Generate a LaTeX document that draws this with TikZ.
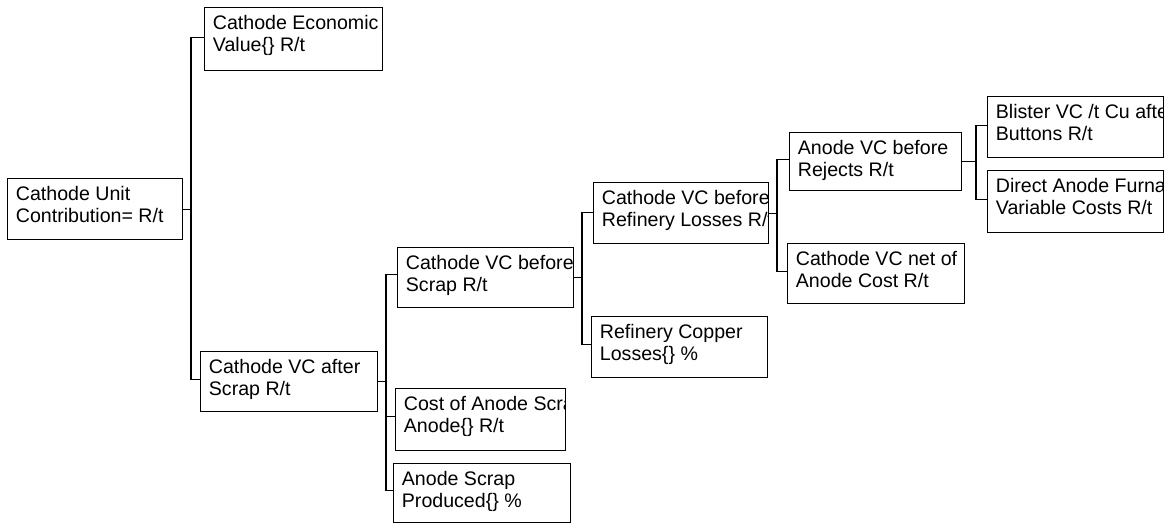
\documentclass[tikz,border=0pt]{standalone}
\usepackage{fontspec}
\setmainfont{Liberation Sans}
\begin{document}
\begin{tikzpicture}[x=1pt,y=-1pt,
  link/.style={draw=black, line width=1.1pt},
  linetext/.style={anchor=base west, inner sep=0pt, draw=none,
    minimum width=0pt, minimum height=0pt, font=\fontsize{19.6}{22}\selectfont},
  % framed two-line label, text clipped at the frame
  box/.style n args={2}{draw=black, line width=1.1pt, inner sep=0pt, anchor=north west,
    path picture={
      \node[linetext] at ([xshift=7.8pt,yshift=-22pt]path picture bounding box.north west) {#1};
      \node[linetext] at ([xshift=7.8pt,yshift=-43.5pt]path picture bounding box.north west) {#2};
    }},
]
\fill[white] (0,0) rectangle (1170,523);
\useasboundingbox (0,0) rectangle (1170,523);

% boxes
\node[box={Cathode Unit}{Contribution= R/t}, minimum width=175pt, minimum height=61pt] (root) at (7,178) {};
\node[box={Cathode Economic}{Value\{\} R/t}, minimum width=178pt, minimum height=63pt] (econ) at (204,7) {};
\node[box={Cathode VC after}{Scrap R/t}, minimum width=177pt, minimum height=60pt] (after) at (200,351) {};
\node[box={Cathode VC before}{Scrap R/t}, minimum width=176pt, minimum height=60pt] (before) at (397,247) {};
\node[box={Cost of Anode Scrap}{Anode\{\} R/t}, minimum width=170pt, minimum height=62pt] (cost) at (395,388) {};
\node[box={Anode Scrap}{Produced\{\} \%}, minimum width=177pt, minimum height=59pt] (produced) at (393,463) {};
\node[box={Cathode VC before}{Refinery Losses R/t}, minimum width=175pt, minimum height=61pt] (refloss) at (593,182) {};
\node[box={Refinery Copper}{Losses\{\} \%}, minimum width=176pt, minimum height=61pt] (copper) at (591,316) {};
\node[box={Anode VC before}{Rejects R/t}, minimum width=172pt, minimum height=58pt] (rejects) at (789,132) {};
\node[box={Cathode VC net of}{Anode Cost R/t}, minimum width=177pt, minimum height=60pt] (net) at (787,243) {};
\node[box={Blister VC /t Cu after}{Buttons R/t}, minimum width=176pt, minimum height=61pt] (blister) at (987,96) {};
\node[box={Direct Anode Furnace}{Variable Costs R/t}, minimum width=176pt, minimum height=62pt] (furnace) at (987,170) {};

% vertical bars of the tree
\coordinate (bar1) at (191,0);
\coordinate (bar2) at (386,0);
\coordinate (bar3) at (582,0);
\coordinate (bar4) at (777,0);
\coordinate (bar5) at (976,0);

\draw[link] (root.east) -- (root.east -| bar1) |- ([yshift=2pt]econ.west);
\draw[link] (root.east -| bar1) |- ([yshift=2pt]after.west);

\draw[link] (after.east) -- (after.east -| bar2) |- ([yshift=3pt]before.west);
\draw[link] (after.east -| bar2) |- ([yshift=3pt]cost.west);
\draw[link] (after.east -| bar2) |- ([yshift=3pt]produced.west);

\draw[link] (before.east) -- (before.east -| bar3) |- ([yshift=1pt]refloss.west);
\draw[link] (before.east -| bar3) |- ([yshift=3pt]copper.west);

\draw[link] (refloss.east) -- (refloss.east -| bar4) |- ([yshift=2pt]rejects.west);
\draw[link] (refloss.east -| bar4) |- ([yshift=2pt]net.west);

\draw[link] (rejects.east) -- (rejects.east -| bar5) |- ([yshift=2pt]blister.west);
\draw[link] (rejects.east -| bar5) |- ([yshift=2pt]furnace.west);
\end{tikzpicture}
\end{document}
